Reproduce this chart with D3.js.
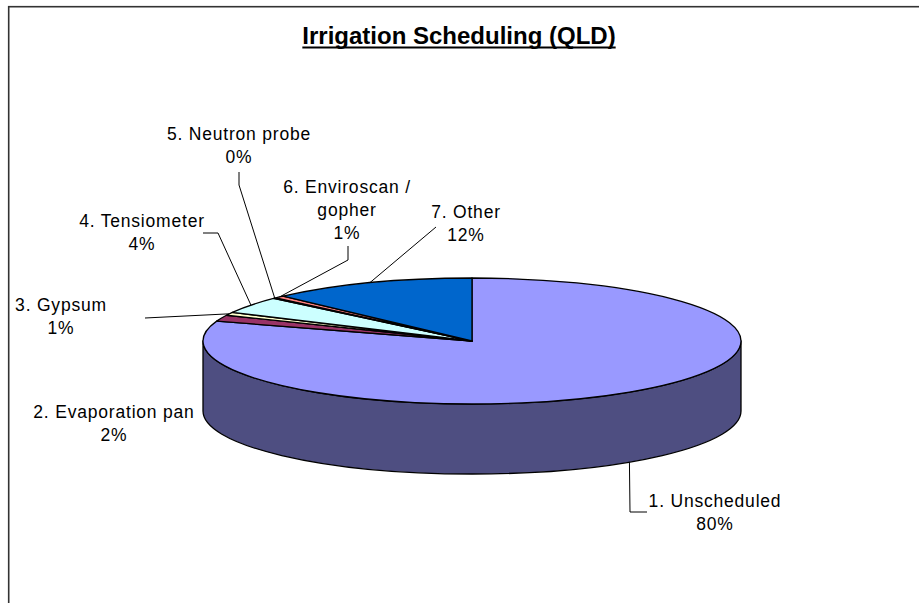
<!DOCTYPE html>
<html><head><meta charset="utf-8">
<script src="https://cdn.jsdelivr.net/npm/d3@7"></script>
<style>
html,body{margin:0;padding:0;background:#fff;overflow:hidden}
text{font-family:"Liberation Sans",Arial,sans-serif}
</style></head>
<body>
<svg id="chart" width="919" height="603"></svg>
<script>
// ---- data ----
const categories = ["1. Unscheduled","2. Evaporation pan","3. Gypsum","4. Tensiometer","5. Neutron probe","6. Enviroscan / gopher","7. Other"];
const values = [80.1, 1.6, 0.8, 4.3, 0.2, 0.6, 12.4];
const percentLabels = ["80%","2%","1%","4%","0%","1%","12%"];
const labelLines = [["1. Unscheduled"],["2. Evaporation pan"],["3. Gypsum"],["4. Tensiometer"],["5. Neutron probe"],["6. Enviroscan /","gopher"],["7. Other"]];
const colors = ["#9999FF","#993366","#FFFFCC","#CCFFFF","#660066","#FF8080","#0066CC"];
const title = "Irrigation Scheduling (QLD)";

// ---- layout ----
const W = 919, H = 603;
const cx = 472, cy = 341, rx = 269, ry = 63, depth = 70;
const lineH = 23;
// label text anchor (centre x, first baseline) and leader elbow points
const labelLayout = [
  {x:715, y:507, leader:[[647,512],[630,512]], onSide:true},
  {x:114, y:418, leader:null},
  {x:61,  y:311, leader:[[145,318]]},
  {x:142, y:227, leader:[[203,233],[218,233]]},
  {x:239, y:140, leader:[[239,172],[239,185]]},
  {x:347, y:193, leader:[[348,246],[348,260]]},
  {x:466, y:218, leader:[[436,227]]}
];

const svg = d3.select("#chart");

// frame
svg.append("rect").attr("x",8.7).attr("y",6.7).attr("width",1200).attr("height",1200)
  .attr("fill","#fff").attr("stroke","#333").attr("stroke-width",1.6);

// title
const t = svg.append("text").attr("x",459).attr("y",44).attr("text-anchor","middle")
  .attr("font-size",24).attr("font-weight","bold").attr("fill","#000").text(title);
const tw = t.node().getComputedTextLength();
svg.append("line").attr("x1",459-tw/2).attr("x2",459+tw/2).attr("y1",47.5).attr("y2",47.5)
  .attr("stroke","#000").attr("stroke-width",2);

const pie = d3.pie().sort(null).value(d=>d).startAngle(0).endAngle(2*Math.PI);
const arcs = pie(values);

const px = a => cx + rx*Math.sin(a);
const py = a => cy - ry*Math.cos(a);

// sides (visible front half: angles between PI/2 and 3PI/2)
const gSide = svg.append("g");
arcs.forEach((d,i)=>{
  const a = Math.max(d.startAngle, Math.PI/2), b = Math.min(d.endAngle, 3*Math.PI/2);
  if (b <= a) return;
  const large = (b-a) > Math.PI ? 1 : 0;
  const p = `M${px(a)},${py(a)} A${rx},${ry} 0 ${large} 1 ${px(b)},${py(b)} L${px(b)},${py(b)+depth} A${rx},${ry} 0 ${large} 0 ${px(a)},${py(a)+depth} Z`;
  gSide.append("path").attr("d",p).attr("fill",d3.color(colors[i]).darker(1.9))
    .attr("stroke","#000").attr("stroke-width",1.3).attr("stroke-linejoin","round");
});

// top faces
const gTop = svg.append("g");
arcs.forEach((d,i)=>{
  const a = d.startAngle, b = d.endAngle;
  const large = (b-a) > Math.PI ? 1 : 0;
  const p = `M${cx},${cy} L${px(a)},${py(a)} A${rx},${ry} 0 ${large} 1 ${px(b)},${py(b)} Z`;
  gTop.append("path").attr("d",p).attr("fill",colors[i])
    .attr("stroke","#000").attr("stroke-width",1.3).attr("stroke-linejoin","round");
});

// leaders
const gLead = svg.append("g");
arcs.forEach((d,i)=>{
  const L = labelLayout[i];
  if (!L.leader) return;
  const m = (d.startAngle + d.endAngle)/2;
  const end = [px(m), py(m) + (L.onSide ? depth : 0)];
  const pts = L.leader.concat([end]);
  gLead.append("path").attr("d", d3.line()(pts)).attr("fill","none")
    .attr("stroke","#000").attr("stroke-width",1);
});

// labels
const gLab = svg.append("g");
arcs.forEach((d,i)=>{
  const L = labelLayout[i];
  const lines = labelLines[i].concat([percentLabels[i]]);
  const txt = gLab.append("text").attr("text-anchor","middle").attr("font-size",17.5)
    .attr("letter-spacing","0.8px").attr("fill","#000");
  lines.forEach((s,k)=>{
    txt.append("tspan").attr("x",L.x).attr("y",L.y + k*lineH).text(s);
  });
});
</script>
</body></html>
